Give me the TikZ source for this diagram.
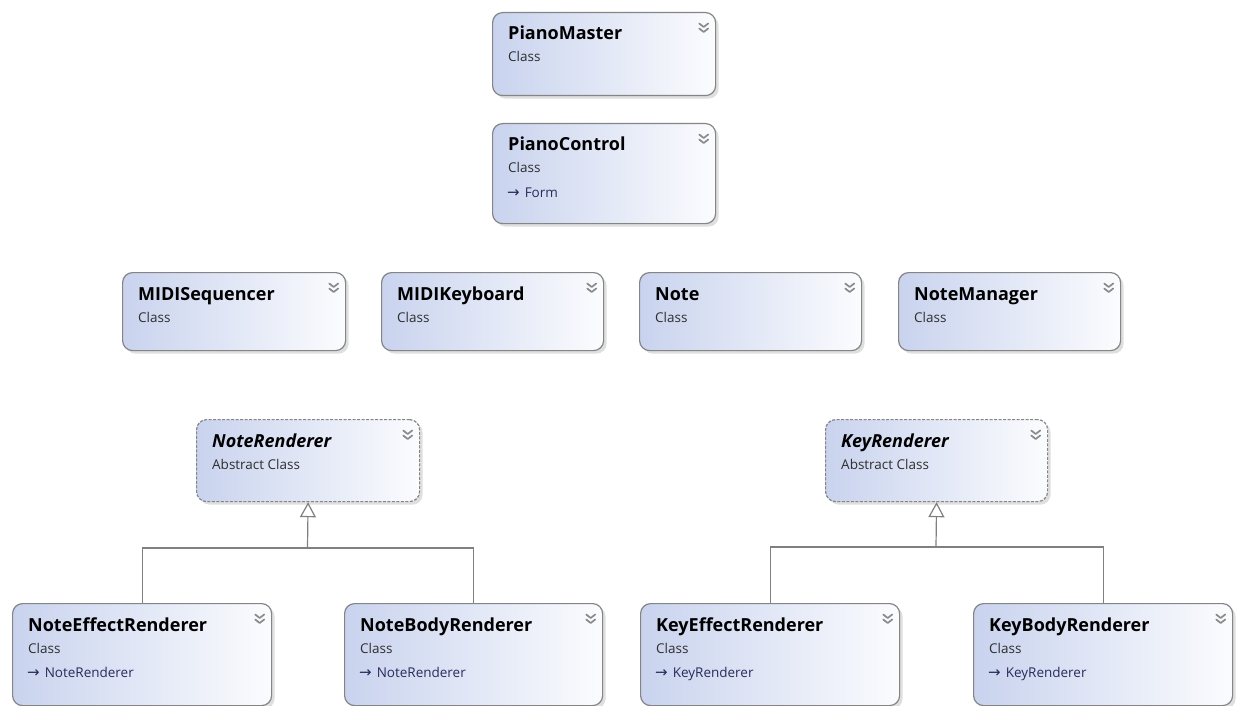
\documentclass[tikz,border=0pt]{standalone}
\usepackage{fontspec}
\setmainfont{Open Sans}
\newfontfamily\symfont{DejaVu Sans}
\usetikzlibrary{arrows.meta,shadows}

\definecolor{boxblue}{HTML}{C9D3EE}
\definecolor{boxwhite}{HTML}{FBFCFE}
\definecolor{boxedge}{HTML}{858585}
\definecolor{linkgray}{HTML}{808080}
\definecolor{chevgray}{HTML}{8A8A8A}
\definecolor{kindcol}{HTML}{2E2E2E}
\definecolor{basecol}{HTML}{2A2A5C}

\tikzset{
  umlbox/.style={draw=boxedge, line width=1.2pt, rounded corners=10pt,
    left color=boxblue, right color=boxwhite, anchor=north west, inner sep=0pt,
    drop shadow={shadow xshift=3pt, shadow yshift=-3pt, opacity=0.35, fill=black!35}},
  abstractbox/.style={umlbox, dash pattern=on 3pt off 1.5pt},
  titletext/.style={anchor=base west, inner sep=0pt, text=black,
    font=\fontsize{18}{20}\selectfont\bfseries},
  kindtext/.style={anchor=base west, inner sep=0pt, text=kindcol,
    font=\fontsize{13.5}{15}\selectfont},
  basetext/.style={anchor=base west, inner sep=0pt, text=basecol,
    font=\fontsize{13.5}{15}\selectfont},
  chev/.style={draw=chevgray, line width=1.7pt, line cap=round, line join=round},
  link/.style={draw=linkgray, line width=1.2pt},
  generalize/.style={link, -{Triangle[open, width=16pt, length=15pt]}},
}

% #1 name, #2 box style, #3 x, #4 y, #5 width, #6 height, #7 title, #8 kind
\newcommand\umlclass[8]{%
  \node[#2, minimum width=#5pt, minimum height=#6pt] (#1) at (#3,#4) {};
  \node[titletext] (#1-title) at ([shift={(16,28)}]#1.north west) {#7};
  \node[kindtext] (#1-kind) at ([shift={(16,50)}]#1.north west) {#8};
  \draw[chev] ([shift={(-17,11.5)}]#1.north east) -- ++(4.5,3.5) -- ++(4.5,-3.5);
  \draw[chev] ([shift={(-17,16.5)}]#1.north east) -- ++(4.5,3.5) -- ++(4.5,-3.5);
}
% base class line: #1 box name, #2 base class
\newcommand\umlbase[2]{%
  \node[basetext] (#1-base) at ([shift={(15,74)}]#1.north west)
    {{\symfont\fontsize{15}{16}\selectfont →}\hspace{5pt}#2};
}

\begin{document}
\begin{tikzpicture}[x=1pt, y=-1pt]
  \fill[white] (0,0) rectangle (1243,706);
  \useasboundingbox (0,0) rectangle (1243,706);

  % top
  \umlclass{pm}{umlbox}{492}{12}{223}{83}{PianoMaster}{Class}
  \umlclass{pc}{umlbox}{492}{123}{223}{100}{PianoControl}{Class}
  \umlbase{pc}{Form}

  % middle row
  \umlclass{seq}{umlbox}{122}{272}{223}{78}{MIDISequencer}{Class}
  \umlclass{kbd}{umlbox}{381}{272}{222}{78}{MIDIKeyboard}{Class}
  \umlclass{note}{umlbox}{639}{272}{222}{78}{Note}{Class}
  \umlclass{nm}{umlbox}{898}{272}{222}{78}{NoteManager}{Class}

  % abstract renderers
  \umlclass{nr}{abstractbox}{196}{419}{223}{82}{\itshape NoteRenderer}{Abstract Class}
  \umlclass{kr}{abstractbox}{825}{419}{222}{82}{\itshape KeyRenderer}{Abstract Class}

  % concrete renderers
  \umlclass{ne}{umlbox}{12}{603}{259}{102}{NoteEffectRenderer}{Class}
  \umlbase{ne}{NoteRenderer}
  \umlclass{nb}{umlbox}{344}{603}{258}{102}{NoteBodyRenderer}{Class}
  \umlbase{nb}{NoteRenderer}
  \umlclass{ke}{umlbox}{640}{603}{259}{102}{KeyEffectRenderer}{Class}
  \umlbase{ke}{KeyRenderer}
  \umlclass{kb}{umlbox}{973}{603}{259}{102}{KeyBodyRenderer}{Class}
  \umlbase{kb}{KeyRenderer}

  % generalization trees
  \coordinate (nj) at (307.5,548);
  \draw[link] (ne.north) |- (nj) -| (nb.north);
  \draw[generalize] (nj) -- (nr.south);

  \coordinate (kj) at (936,547);
  \draw[link] (ke.north) |- (kj) -| (kb.north);
  \draw[generalize] (kj) -- (kr.south);
\end{tikzpicture}
\end{document}
